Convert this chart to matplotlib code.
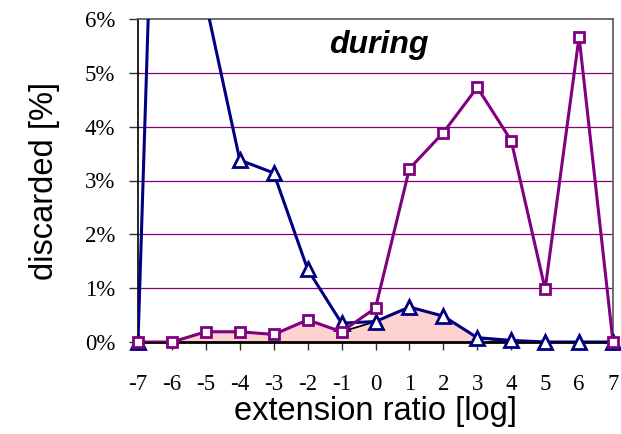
import matplotlib
matplotlib.use("Agg")
import matplotlib.pyplot as plt
import numpy as np

x = [-7, -6, -5, -4, -3, -2, -1, 0, 1, 2, 3, 4, 5, 6, 7]
x_labels = ["-7", "-6", "-5", "-4", "-3", "-2", "-1", "0", "1", "2", "3", "4", "5", "6", "7"]
blue_vals = [0.0, 20.0, 6.3, 3.38, 3.14, 1.35, 0.35, 0.38, 0.65, 0.48, 0.08, 0.03, 0.0, 0.0, 0.0]
purple_vals = [0.0, 0.0, 0.19, 0.19, 0.14, 0.41, 0.19, 0.63, 3.22, 3.89, 4.73, 3.74, 0.98, 5.67, 0.0]
area_vals = [0.0, 0.0, 0.19, 0.19, 0.14, 0.41, 0.19, 0.38, 0.65, 0.48, 0.08, 0.0, 0.0, 0.0, 0.0]
y_ticks = [0, 1, 2, 3, 4, 5, 6]
y_labels = ["0%", "1%", "2%", "3%", "4%", "5%", "6%"]

W, H = 621, 434
fig = plt.figure(figsize=(W / 100, H / 100), dpi=100)
ax = fig.add_axes([138 / W, 1 - 342 / H, (613 - 138) / W, (342 - 19) / H])

blue = "#000080"
purple = "#800080"

ax.fill_between(x, area_vals, 0, facecolor="#FFD2D2", edgecolor="none", zorder=1)
ax.plot(x, area_vals, color="black", lw=1.3, zorder=1.5)

ax.plot(x, blue_vals, color=blue, lw=2.2, zorder=3)
bx = [xi for xi, v in zip(x, blue_vals) if v <= 6]
by = [v for v in blue_vals if v <= 6]
ax.plot(bx, by, ls="none", marker="^", ms=9.5, mfc="white", mec=blue, mew=2.0,
        zorder=4, clip_on=False)

ax.plot(x, purple_vals, color=purple, lw=2.2, zorder=5)
ax.plot(x, purple_vals, ls="none", marker="s", ms=7.5, mfc="white", mec=purple,
        mew=2.0, zorder=6, clip_on=False)

ax.set_xlim(-7, 7)
ax.set_ylim(0, 6)
ax.set_yticks(y_ticks)
ax.set_yticklabels(y_labels, fontfamily="Liberation Serif", fontsize=16.5)
ax.set_xticks(x)
ax.set_xticklabels(x_labels, fontfamily="Liberation Serif", fontsize=16.5)

for yv in y_ticks[1:-1]:
    ax.axhline(yv, color=purple, lw=0.9, zorder=0.5)

ax.tick_params(axis="y", direction="out", length=6.5, width=1, color="#333333", pad=10)
ax.tick_params(axis="x", direction="out", length=6, width=1, color="#333333", pad=17)

ax.spines["left"].set_color("black")
ax.spines["left"].set_linewidth(1.2)
ax.spines["bottom"].set_color("black")
ax.spines["bottom"].set_linewidth(2.0)
ax.spines["top"].set_color("#555555")
ax.spines["top"].set_linewidth(1.2)
ax.spines["right"].set_color("#555555")
ax.spines["right"].set_linewidth(1.2)

ax.set_xlabel("extension ratio [log]", fontfamily="Liberation Sans", fontsize=23.5, labelpad=1)
ax.set_ylabel("discarded [%]", fontfamily="Liberation Sans", fontsize=23.5, labelpad=18)

ax.text(0.507, 0.92, "during", transform=ax.transAxes, ha="center", va="center",
        fontfamily="Liberation Sans", fontsize=23, fontweight="bold", fontstyle="italic")

fig.savefig("out.png", dpi=100)
